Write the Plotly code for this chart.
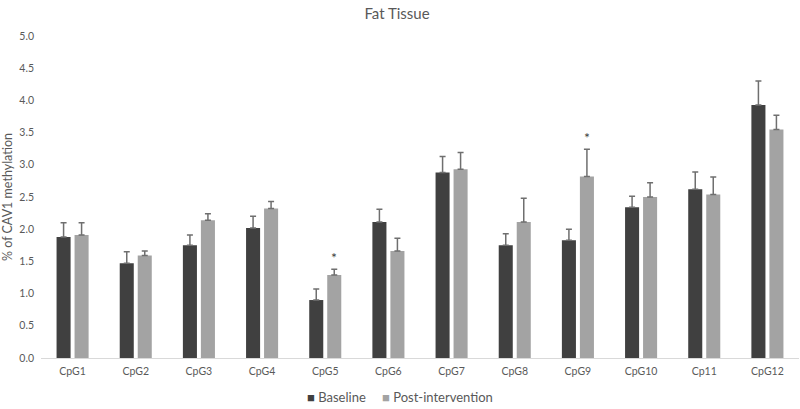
import plotly.graph_objects as go

categories = ["CpG1", "CpG2", "CpG3", "CpG4", "CpG5", "CpG6", "CpG7", "CpG8", "CpG9", "CpG10", "Cp11", "CpG12"]
baseline = [1.88, 1.47, 1.75, 2.02, 0.90, 2.11, 2.88, 1.75, 1.83, 2.34, 2.62, 3.93]
baseline_err = [0.22, 0.18, 0.16, 0.18, 0.17, 0.20, 0.25, 0.18, 0.17, 0.17, 0.27, 0.37]
post = [1.91, 1.59, 2.14, 2.32, 1.29, 1.66, 2.93, 2.11, 2.82, 2.50, 2.54, 3.55]
post_err = [0.19, 0.07, 0.10, 0.11, 0.09, 0.20, 0.26, 0.37, 0.42, 0.22, 0.27, 0.22]
significant = ["CpG5", "CpG9"]
series_names = ["Baseline", "Post-intervention"]
series_colors = ["#404040", "#a3a3a3"]

label_color = "#595959"
font_family = "Lato, 'Open Sans', sans-serif"

fig = go.Figure()
for name, vals, errs, col in [(series_names[0], baseline, baseline_err, series_colors[0]),
                              (series_names[1], post, post_err, series_colors[1])]:
    fig.add_trace(go.Bar(
        name=name, x=categories, y=vals,
        marker=dict(color=col, line=dict(width=0)),
        error_y=dict(type="data", array=errs, arrayminus=[0]*len(errs),
                     symmetric=False, color="#6f6f6f", thickness=1.5, width=3),
        showlegend=False,
    ))

annotations = []
for c in significant:
    i = categories.index(c)
    annotations.append(dict(
        x=c, y=post[i] + post_err[i], xref="x", yref="y", text="*",
        showarrow=False, xshift=9, yshift=12, yanchor="middle",
        font=dict(size=14, color="#404040", family=font_family),
    ))

# manual legend (plot area spans x 41..799 px, y 35.5..358 px)
legend_left_px = [305, 380]
for name, col, px in zip(series_names, series_colors, legend_left_px):
    annotations.append(dict(
        x=(px - 41) / 758, y=(358 - 397) / 322.5, xref="paper", yref="paper",
        xanchor="left", yanchor="middle", showarrow=False,
        text=f"<span style='color:{col}'>■</span> {name}",
        font=dict(size=13, color=label_color, family=font_family),
    ))

fig.update_layout(
    width=800, height=409,
    paper_bgcolor="white", plot_bgcolor="white",
    margin=dict(l=41, r=1, t=35.5, b=51, autoexpand=False),
    barmode="group", bargap=0.43, bargroupgap=0.22,
    title=dict(text="Fat Tissue", x=397 / 800, xanchor="center", xref="container",
               y=1 - 14 / 409, yref="container", yanchor="middle",
               font=dict(size=15, color=label_color, family=font_family)),
    font=dict(family=font_family, color=label_color, size=10.5),
    xaxis=dict(showgrid=False, showline=False, ticks="", automargin=False,
               ticklabelstandoff=5,
               tickfont=dict(size=10.5, color=label_color)),
    yaxis=dict(range=[0, 5], dtick=0.5, tickformat=".1f", showgrid=False, zeroline=True,
               zerolinecolor="#d9d9d9", zerolinewidth=1, showline=False, ticks="",
               automargin=False, ticklabelstandoff=6,
               tickfont=dict(size=10.5, color=label_color),
               title=dict(text="% of CAV1 methylation", font=dict(size=12.5, color=label_color), standoff=3)),
    annotations=annotations,
    showlegend=False,
)

fig.write_html("out.html", config={"displayModeBar": False},
               post_script="document.body.style.margin='0px';")
